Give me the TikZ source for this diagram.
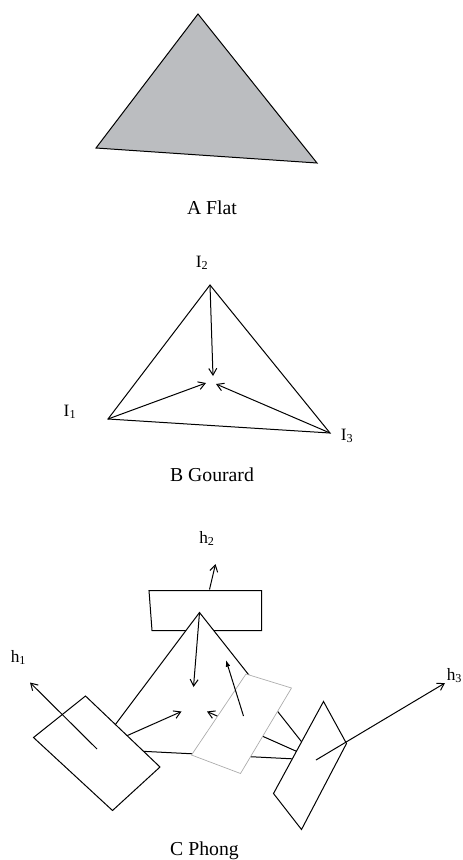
\documentclass[tikz,border=0pt]{standalone}
\usepackage{fontspec}
\setmainfont{Liberation Serif}
\usetikzlibrary{arrows.meta}
\definecolor{SoftGray}{RGB}{187,189,192}
\definecolor{EdgeGray}{RGB}{170,170,170}

\begin{document}
\begin{tikzpicture}[x=0.75pt, y=-0.75pt, line width=0.75pt, every node/.style={font=\fontsize{13}{15}\selectfont, inner sep=0pt, anchor=base},
  caption/.style={font=\fontsize{14.8}{17}\selectfont},
  ray/.style={-{Straight Barb[length=5pt,width=6pt]}},
  solidray/.style={-{Latex[length=5pt,width=3.5pt]}},
  patch/.style={draw, fill=white, line join=miter}]
\useasboundingbox (0,0) rectangle (462,860);
% flat
\coordinate (a2) at (198,14);
\coordinate (a1) at (96,148);
\coordinate (a3) at (317,163);
\draw[fill=SoftGray] (a1) -- (a2) -- (a3) -- cycle;
\node[caption] (flat) at (212,214) {A Flat};
% gourard
\coordinate (b2) at (210,285);
\coordinate (b1) at (108,419);
\coordinate (b3) at (330,433);
\coordinate (bc2) at (213,376);
\coordinate (bc1) at (206,383);
\coordinate (bc3) at (216,384);
\draw (b1) -- (b2) -- (b3) -- cycle;
\draw[ray] (b2) -- (bc2);
\draw[ray] (b1) -- (bc1);
\draw[ray] (b3) -- (bc3);
\node (i2) at (202,267) {I\textsubscript{2}};
\node (i1) at (70,416) {I\textsubscript{1}};
\node (i3) at (347,440) {I\textsubscript{3}};
\node[caption] (gourard) at (212,481) {B Gourard};
% phong
\coordinate (c2) at (199.5,612.5);
\coordinate (c1) at (97,749);
\coordinate (c3) at (316,760);
\coordinate (cc2) at (193.5,687);
\coordinate (cc1) at (181.5,711.5);
\coordinate (cc3) at (207,711.5);
\draw[patch] (149,590.5) -- (261.5,590.5) -- (261.5,630.5) -- (152,630.5) -- cycle;
\draw[patch] (c1) -- (c2) -- (c3) -- cycle;
\draw[ray] (c2) -- (cc2);
\draw[ray] (c1) -- (cc1);
\draw[ray] (c3) -- (cc3);
\draw[patch] (85.5,696) -- (160,767) -- (112.5,810.5) -- (33.5,737.5) -- cycle;
\draw[patch, draw=EdgeGray, line width=0.5pt] (246,674) -- (291.5,688) -- (240.5,773.5) -- (191.5,755) -- cycle;
\draw[patch] (323.5,701.5) -- (346.5,743.5) -- (301.5,829.5) -- (273.5,793.5) -- cycle;
\coordinate (h1end) at (30,682.5);
\coordinate (h2start) at (209.5,589.5);
\coordinate (h2end) at (215.5,564);
\coordinate (h3end) at (445,683);
\coordinate (pstart) at (243.5,716);
\coordinate (pend) at (226,660);
\draw[ray] (c1) -- (h1end);
\draw[ray] (h2start) -- (h2end);
\draw[ray] (c3) -- (h3end);
\draw[solidray] (pstart) -- (pend);
\node (h1) at (18.5,662) {h\textsubscript{1}};
\node (h2) at (207,543) {h\textsubscript{2}};
\node (h3) at (454.5,680) {h\textsubscript{3}};
\node[caption] (phong) at (204.5,855) {C Phong};
\end{tikzpicture}
\end{document}
